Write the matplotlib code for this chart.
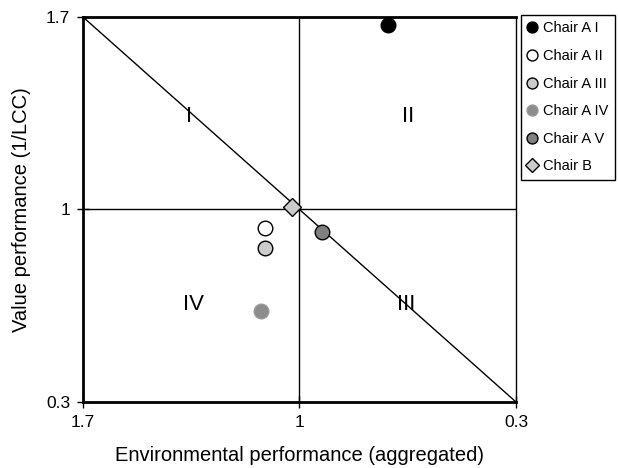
import matplotlib
matplotlib.use("Agg")
import matplotlib.pyplot as plt

plt.rcParams['font.family'] = ['Liberation Sans', 'DejaVu Sans']

# data
chairs = ["Chair A I", "Chair A II", "Chair A III", "Chair A IV", "Chair A V", "Chair B"]
env_perf = [0.714, 1.112, 1.112, 1.124, 0.926, 1.025]
value_perf = [1.671, 0.932, 0.859, 0.631, 0.917, 1.008]
markers = ["o", "o", "o", "o", "o", "D"]
faces = ["#000000", "#ffffff", "#cccccc", "#8c8c8c", "#808080", "#cccccc"]
edges = ["#000000", "#000000", "#000000", "#999999", "#000000", "#000000"]
sizes = [10.5, 10.5, 10.5, 10.5, 10.5, 9.5]

quad_labels = ["I", "II", "III", "IV"]
quad_x = [1.357, 0.649, 0.656, 1.343]
quad_y = [1.336, 1.336, 0.656, 0.656]

ticks = [1.7, 1, 0.3]
tick_labels = ["1.7", "1", "0.3"]

fig = plt.figure(figsize=(6.18, 4.68), dpi=100)
ax = fig.add_axes([0.134, 0.141, 0.701, 0.823])

# reference lines
ax.plot([1.7, 0.3], [1.7, 0.3], color="black", lw=1.0, zorder=1)
ax.axvline(1, color="black", lw=1.0, zorder=1)
ax.axhline(1, color="black", lw=1.0, zorder=1)

for i in range(len(chairs)):
    ax.plot(env_perf[i], value_perf[i], linestyle="none", marker=markers[i],
            markersize=sizes[i], markerfacecolor=faces[i], markeredgecolor=edges[i],
            markeredgewidth=1.0, label=chairs[i], zorder=3)

for i in range(len(quad_labels)):
    ax.text(quad_x[i], quad_y[i], quad_labels[i], fontsize=16,
            ha="center", va="center")

ax.set_xlim(1.7, 0.3)
ax.set_ylim(0.3, 1.7)
ax.set_xticks(ticks)
ax.set_xticklabels(tick_labels)
ax.set_yticks(ticks)
ax.set_yticklabels(tick_labels)
ax.tick_params(direction="inout", length=8, width=1, labelsize=12.5, pad=5)

ax.spines["left"].set_linewidth(2)
ax.spines["bottom"].set_linewidth(2)
ax.spines["top"].set_linewidth(2)
ax.spines["right"].set_linewidth(1)

ax.set_xlabel("Environmental performance (aggregated)", fontsize=14.5, labelpad=12)
ax.set_ylabel("Value performance (1/LCC)", fontsize=14.5, labelpad=11)

leg = ax.legend(loc="upper left", bbox_to_anchor=(1.012, 1.005), borderaxespad=0,
                fontsize=10.5, markerscale=0.75, handlelength=0.6, handletextpad=0.45,
                labelspacing=0.93, fancybox=False, framealpha=1, borderpad=0.45)
leg.get_frame().set_edgecolor("black")
leg.get_frame().set_linewidth(1)

fig.savefig("out.png", dpi=100)
